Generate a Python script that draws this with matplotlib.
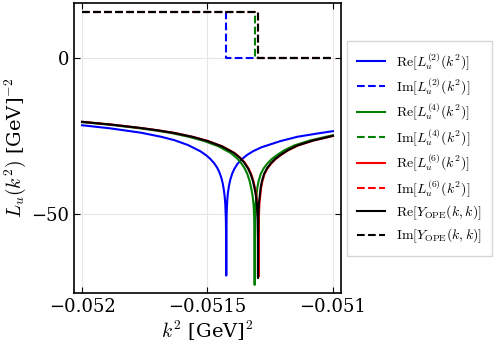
import matplotlib
matplotlib.use('Agg')
import matplotlib.pyplot as plt

plt.rcParams['font.family'] = 'DejaVu Serif'
plt.rcParams['mathtext.fontset'] = 'cm'

# Re L_u^(2): blue
k_re2 = [-0.0520000, -0.0518852, -0.0517652, -0.0516852, -0.0516320, -0.0515772,
         -0.0515280, -0.0515052, -0.0514880, -0.0514732, -0.0514612, -0.0514532,
         -0.0514452, -0.0514392, -0.0514348, -0.0514316, -0.0514292, -0.0514268,
         -0.0514256, -0.0514252,
         -0.0514248, -0.0514236, -0.0514212, -0.0514188, -0.0514148, -0.0514092,
         -0.0514012, -0.0513932, -0.0513812, -0.0513652, -0.0513412, -0.0513172,
         -0.0512852, -0.0512092, -0.0511412, -0.0510652, -0.0510000]
re2 = [-21.5, -22.52, -23.9, -25.2, -26.3, -27.88,
       -29.9, -31.17, -32.4, -33.75, -35.2, -36.52,
       -38.3, -40.24, -42.3, -44.38, -46.8, -51.5,
       -58.5, -69.9,
       -58.0, -50.0, -45.5, -43.39, -41.2, -39.04,
       -37.0, -35.58, -34.0, -32.56, -31.0, -29.82,
       -28.6, -26.6, -25.2, -24.2, -23.4]

# Re L_u^(4): green
k_re4 = [-0.0520000, -0.0518920, -0.0517784, -0.0517120, -0.0516452, -0.0515720,
         -0.0515120, -0.0514560, -0.0514080, -0.0513840, -0.0513680, -0.0513520,
         -0.0513412, -0.0513320, -0.0513252, -0.0513200, -0.0513160, -0.0513136,
         -0.0513124, -0.0513120,
         -0.0513116, -0.0513104, -0.0513080, -0.0513012, -0.0512960, -0.0512880,
         -0.0512760, -0.0512612, -0.0512440, -0.0512212, -0.0511920, -0.0511544,
         -0.0510920, -0.0510480, -0.0510000]
re4 = [-20.5, -21.33, -22.4, -23.13, -24.0, -25.26,
       -26.6, -28.3, -30.4, -32.0, -33.4, -35.36,
       -37.2, -39.49, -42.0, -44.3, -47.5, -51.7,
       -58.0, -72.9,
       -58.0, -51.0, -46.5, -41.5, -39.39, -37.2,
       -35.37, -33.8, -32.39, -31.0, -29.48, -28.0,
       -26.4, -25.58, -24.7]

# Re L_u^(6): red
k_re6 = [-0.0520000, -0.0518768, -0.0517632, -0.0516968, -0.0516300, -0.0515568,
         -0.0514968, -0.0514408, -0.0513928, -0.0513688, -0.0513528, -0.0513368,
         -0.0513260, -0.0513168, -0.0513100, -0.0513048, -0.0513008, -0.0512984,
         -0.0512972, -0.0512968,
         -0.0512964, -0.0512952, -0.0512928, -0.0512860, -0.0512808, -0.0512728,
         -0.0512608, -0.0512460, -0.0512288, -0.0512060, -0.0511768, -0.0511392,
         -0.0510768, -0.0510328, -0.0510000]
re6 = [-20.38, -21.33, -22.4, -23.13, -24.0, -25.26,
       -26.6, -28.3, -30.4, -32.0, -33.4, -35.36,
       -37.2, -39.49, -42.0, -44.3, -47.5, -51.7,
       -58.0, -70.3,
       -58.0, -51.0, -46.5, -41.5, -39.39, -37.2,
       -35.37, -33.8, -32.39, -31.0, -29.48, -28.0,
       -26.4, -25.58, -24.95]

# Re Y_OPE: black
k_reY = [-0.0520000, -0.0518788, -0.0517652, -0.0516988, -0.0516320, -0.0515588,
         -0.0514988, -0.0514428, -0.0513948, -0.0513708, -0.0513548, -0.0513388,
         -0.0513280, -0.0513188, -0.0513120, -0.0513068, -0.0513028, -0.0513004,
         -0.0512992, -0.0512988,
         -0.0512984, -0.0512972, -0.0512948, -0.0512880, -0.0512828, -0.0512748,
         -0.0512628, -0.0512480, -0.0512308, -0.0512080, -0.0511788, -0.0511412,
         -0.0510788, -0.0510348, -0.0510000]
reY = [-20.4, -21.33, -22.4, -23.13, -24.0, -25.26,
       -26.6, -28.3, -30.4, -32.0, -33.4, -35.36,
       -37.2, -39.49, -42.0, -44.3, -47.5, -51.7,
       -58.0, -70.7,
       -58.0, -51.0, -46.5, -41.5, -39.39, -37.2,
       -35.37, -33.8, -32.39, -31.0, -29.48, -28.0,
       -26.4, -25.58, -24.9]

# Im parts: step functions
k_im2 = [-0.0520000, -0.0514252, -0.0514252, -0.0510000]
k_im4 = [-0.0520000, -0.0513120, -0.0513120, -0.0510000]
k_im6 = [-0.0520000, -0.0512968, -0.0512968, -0.0510000]
k_imY = [-0.0520000, -0.0512988, -0.0512988, -0.0510000]
im_step = [15.06, 15.06, 0.0, 0.0]

xticks = [-0.052, -0.0515, -0.051]
xticklabels = ['\u22120.052', '\u22120.0515', '\u22120.051']
yticks = [-50, 0]
yticklabels = ['\u221250', '0']

fig = plt.figure(figsize=(4.98, 3.49), dpi=100)
ax = fig.add_axes([0.1486, 0.1605, 0.5361, 0.8295])

lw = 1.5
ax.plot(k_re2, re2, color='blue', lw=lw, label=r'$\mathrm{Re}[L_u^{(2)}(k^2)]$')
ax.plot(k_im2, im_step, color='blue', ls='--', lw=lw, label=r'$\mathrm{Im}[L_u^{(2)}(k^2)]$')
ax.plot(k_re4, re4, color='green', lw=lw, label=r'$\mathrm{Re}[L_u^{(4)}(k^2)]$')
ax.plot(k_im4, im_step, color='green', ls='--', lw=lw, label=r'$\mathrm{Im}[L_u^{(4)}(k^2)]$')
ax.plot(k_re6, re6, color='red', lw=lw, label=r'$\mathrm{Re}[L_u^{(6)}(k^2)]$')
ax.plot(k_im6, im_step, color='red', ls='--', lw=lw, label=r'$\mathrm{Im}[L_u^{(6)}(k^2)]$')
ax.plot(k_reY, reY, color='black', lw=lw, label=r'$\mathrm{Re}[Y_{\mathrm{OPE}}(k,k)]$')
ax.plot(k_imY, im_step, color='black', ls='--', lw=lw, label=r'$\mathrm{Im}[Y_{\mathrm{OPE}}(k,k)]$')

ax.set_xlim(-0.052032, -0.050968)
ax.set_ylim(-75.5, 17.7)
ax.set_xticks(xticks)
ax.set_xticklabels(xticklabels)
ax.set_yticks(yticks)
ax.set_yticklabels(yticklabels)
ax.tick_params(direction='in', top=True, right=True, labelsize=13, length=4)
ax.grid(True, color='0.9', lw=0.8)
for s in ax.spines.values():
    s.set_linewidth(1.2)

ax.set_xlabel(r'$k^2$ [GeV]$^2$', fontsize=14, labelpad=2)
ax.set_ylabel(r'$L_u(k^2)$ [GeV]$^{-2}$', fontsize=14, labelpad=2)

ax.legend(loc='center left', bbox_to_anchor=(1.022, 0.5), fontsize=10,
          fancybox=False, edgecolor='0.8', borderpad=0.75, labelspacing=0.35,
          borderaxespad=0)

fig.savefig('out.png', dpi=100)
